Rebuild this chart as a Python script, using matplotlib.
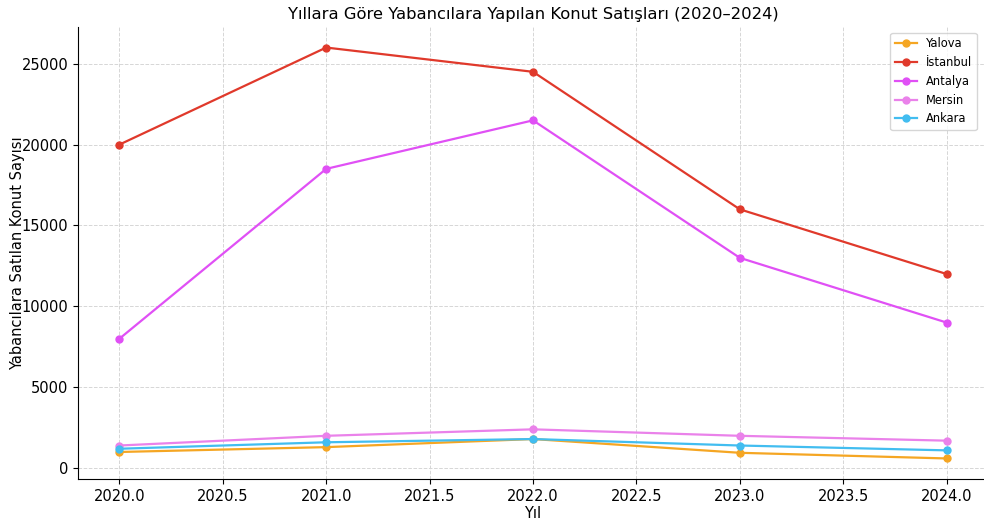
import matplotlib
matplotlib.use('Agg')
import matplotlib.pyplot as plt

years = [2020, 2021, 2022, 2023, 2024]
yalova = [1000, 1300, 1800, 950, 600]
istanbul = [20000, 26000, 24500, 16000, 12000]
antalya = [8000, 18500, 21500, 13000, 9000]
mersin = [1400, 2000, 2400, 2000, 1700]
ankara = [1200, 1600, 1800, 1400, 1100]

series = [
    ('Yalova', yalova, '#f5a623'),
    ('İstanbul', istanbul, '#e0392b'),
    ('Antalya', antalya, '#e050f5'),
    ('Mersin', mersin, '#ea82ea'),
    ('Ankara', ankara, '#42bdf0'),
]

fig = plt.figure(figsize=(9.84, 5.23), dpi=100)
ax = fig.add_axes([78 / 984, 44 / 523, 910 / 984, 452 / 523])

for name, vals, color in series:
    ax.plot(years, vals, marker='o', markersize=5, linewidth=1.6, color=color, label=name)

ax.set_title('Yıllara Göre Yabancılara Yapılan Konut Satışları (2020–2024)', fontsize=11.8, pad=6)
ax.set_xlabel('Yıl', fontsize=10.5, labelpad=2)
ax.set_ylabel('Yabancılara Satılan Konut Sayısı', fontsize=10.5)
ax.yaxis.set_label_coords(-0.058, 0.5)
ax.tick_params(labelsize=10.5)
ax.grid(True, linestyle='--', linewidth=0.7, color='#d6d6d6')
ax.spines['top'].set_visible(False)
ax.spines['right'].set_visible(False)
ax.legend(loc='upper right', bbox_to_anchor=(0.994, 1.0), fontsize=8.3,
          frameon=True, edgecolor='#cccccc', handlelength=1.9, borderpad=0.4,
          labelspacing=0.5)

fig.savefig('out.png', dpi=100)
